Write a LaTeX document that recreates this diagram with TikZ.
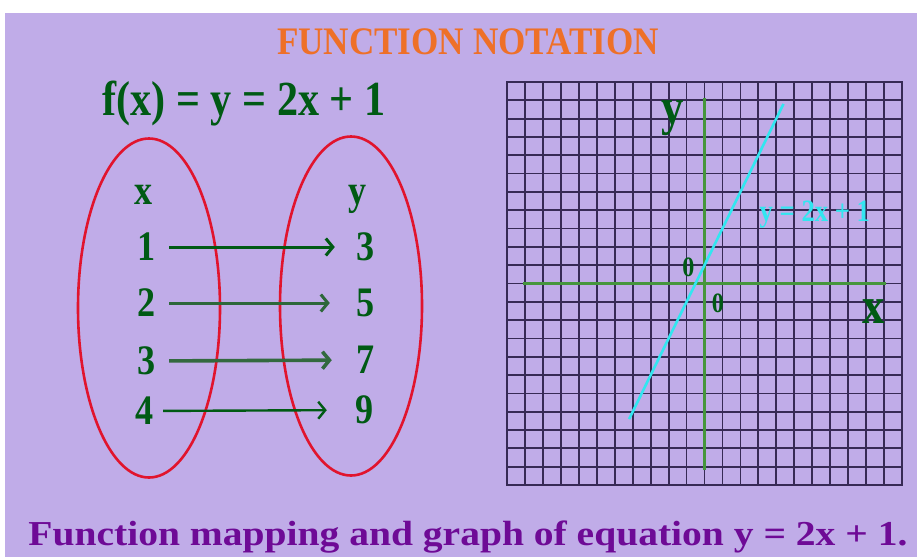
\documentclass[tikz,border=0pt]{standalone}
\usepackage{fontspec}
\setmainfont{Liberation Serif}
\newfontfamily\narrowface[FakeStretch=0.86]{Liberation Serif}
\newfontfamily\titleface[FakeStretch=0.9]{Liberation Serif}
\newfontfamily\wideface[FakeStretch=1.13]{Liberation Serif}
\usetikzlibrary{arrows.meta,shapes.geometric}
\definecolor{lavender}{RGB}{192,172,232}
\definecolor{titleorange}{RGB}{238,112,40}
\definecolor{leafgreen}{RGB}{0,90,20}
\definecolor{ringred}{RGB}{225,20,45}
\definecolor{gridink}{RGB}{55,42,85}
\definecolor{axisgreen}{RGB}{70,150,60}
\definecolor{linecyan}{RGB}{50,230,240}
\definecolor{capviolet}{RGB}{110,10,150}

\begin{document}
\begin{tikzpicture}[x=1pt,y=-1pt,
        num/.style={text=leafgreen,inner sep=0pt,font=\narrowface\bfseries\fontsize{42}{42}\selectfont},
        setring/.style={ellipse,draw=ringred,line width=2.6pt,inner sep=0pt,
                        minimum width=142pt,minimum height=339pt},
        maparrow/.style={-{Straight Barb[length=7pt,width=17pt]},line width=3pt,leafgreen,
                         shorten <=13pt,shorten >=22pt},
        gridline/.style={gridink,line width=1.8pt},
        axisline/.style={axisgreen,line width=2.2pt},
        axislabel/.style={text=leafgreen,inner sep=0pt,font=\narrowface\bfseries\fontsize{52}{52}\selectfont},
        zerolabel/.style={text=leafgreen,inner sep=0pt,font=\narrowface\bfseries\fontsize{28}{28}\selectfont}]
      \useasboundingbox (0,0) rectangle (917,557);
      \fill[white] (0,0) rectangle (917,557);
      \fill[lavender] (5,13) rectangle (917,557);

      \node[anchor=base,inner sep=0pt,text=titleorange,font=\titleface\bfseries\fontsize{39}{39}\selectfont]
        (title) at (468,54) {FUNCTION NOTATION};
      \node[anchor=base,inner sep=0pt,text=leafgreen,font=\narrowface\bfseries\fontsize{49}{49}\selectfont]
        (rule) at (244,115) {f(x) = y = 2x + 1};

      \node[setring] (dom) at (149,308) {};
      \node[setring] (rng) at (351,306) {};
      \node[num] (xh) at (144,195) {x};
      \node[num,anchor=base] (yh) at (358,204) {y};
      \node[num] (x1) at (147,247) {1};
      \node[num] (x2) at (147,303) {2};
      \node[num] (x3) at (147,361) {3};
      \node[num] (x4) at (145,411) {4};
      \node[num] (y1) at (366,247) {3};
      \node[num] (y2) at (366,303) {5};
      \node[num] (y3) at (366,360) {7};
      \node[num] (y4) at (365,410) {9};
      \draw[maparrow] (x1)--(y1);
      \draw[maparrow,leafgreen!65!gray,shorten >=27pt] (x2)--(y2);
      \draw[maparrow,leafgreen!60!gray,line width=3.6pt,shorten >=25pt] (x3)--(y3);
      \draw[maparrow,line width=2.4pt,shorten <=9pt,shorten >=29pt] (x4)--(y4);

      \begin{scope}[shift={(704.5,283.5)},x=17.95pt,y=18.32pt]
        \foreach \k in {-10,...,10}{
          \draw[gridline] (\k,-11) -- (\k,11);
          \draw[gridline] (-11,\k) -- (11,\k);
        }
        \draw[gridink,line width=2.6pt] (-11,-11) rectangle (11,11);
        \draw[axisline] (-10.1,0) -- (10.1,0);
        \draw[axisline] (0,-10.2) -- (0,10.1);
        \draw[linecyan,line width=2.6pt,domain=-4.2:4.4] plot (\x,{2*\x+1});
        \node[axislabel,anchor=base] (ylab) at (-1.75,8.7) {y};
        \node[axislabel,anchor=base] (xlab) at (9.4,-2.2) {x};
        \node[zerolabel] (zup) at (-0.9,0.9) {0};
        \node[zerolabel] (zdn) at (0.75,-1.06) {0};
        \node[inner sep=0pt,text=linecyan,font=\narrowface\bfseries\fontsize{31}{31}\selectfont]
          (eq) at (6.15,3.75) {y = 2x + 1};
      \end{scope}

      \node[anchor=base,inner sep=0pt,text=capviolet,font=\wideface\bfseries\fontsize{35}{35}\selectfont]
        (cap) at (468,545) {Function mapping and graph of equation y = 2x + 1.};
    \end{tikzpicture}
\end{document}
